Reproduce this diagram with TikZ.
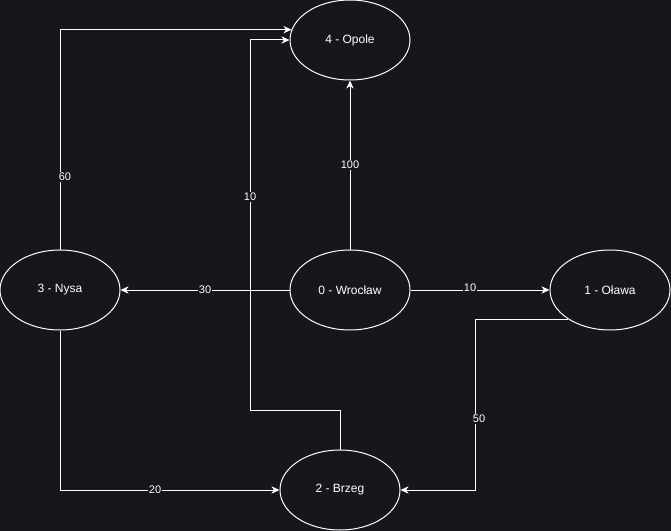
\documentclass[tikz,border=0pt]{standalone}
\usepackage{fontspec}
\setmainfont{Liberation Sans}
\usetikzlibrary{shapes.geometric, arrows.meta}
\definecolor{bg}{HTML}{18151C}

\begin{document}
\begin{tikzpicture}[x=0.75pt, y=-0.75pt, line width=0.75pt, white,
  city/.style={draw=white, ellipse, minimum width=90pt, minimum height=60pt,
    inner sep=0pt, text=white, font=\fontsize{9}{11}\selectfont},
  road/.style={draw=white, -{Stealth[length=6pt,width=5.5pt,inset=1.8pt]}},
  dist/.style={fill=bg, text=white, inner sep=0.8pt, font=\fontsize{8.25}{10}\selectfont}]
  % tlo i rozmiar strony
  \fill[bg] (0,0) rectangle (671,531);
  \useasboundingbox (0,0) rectangle (671,531);
  % miasta
  \node[city] (opole) at (350,40) {4 - Opole};
  \node[city] (wroc) at (350,290) {0 - Wrocław};
  \node[city] (nysa) at (60,290) {3 - Nysa};
  \node[city] (olawa) at (610,290) {1 - Oława};
  \node[city] (brzeg) at (340,490) {2 - Brzeg};
  % punkty zalamania
  \coordinate (bend) at (250,410);
  \coordinate (c50) at (475,490);
  % drogi
  \draw[road] (wroc) -- (opole);
  \draw[road] (wroc) -- (nysa);
  \draw[road] (wroc) -- (olawa);
  \draw[road] (nysa.north) |- (opole.170);
  \draw[road] (brzeg.north) |- (bend) |- (opole.west);
  \draw[road] (nysa.south) |- (brzeg.west);
  \draw[road] (olawa.215) -| (c50) -- (brzeg.east);
  % odleglosci
  \node[dist] (d100) at (350,165) {100};
  \node[dist] (d30) at (205,290) {30};
  \node[dist] (d10a) at (470,288) {10};
  \node[dist] (d60) at (65,177) {60};
  \node[dist] (d10b) at (250,197) {10};
  \node[dist] (d20) at (155,490) {20};
  \node[dist] (d50) at (479,419) {50};
\end{tikzpicture}
\end{document}
